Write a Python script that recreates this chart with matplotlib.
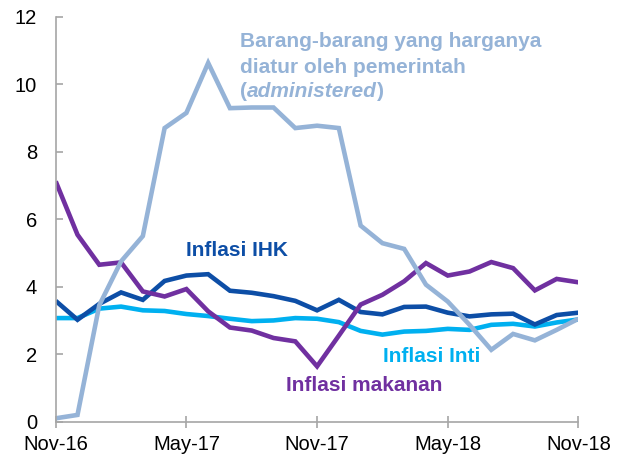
import numpy as np
import matplotlib.pyplot as plt

plt.rcParams['font.family'] = ['Liberation Sans', 'DejaVu Sans']

# ---------------- DATA ----------------
# monthly, Nov-16 .. Nov-18 (annual %, yoy)
months = np.arange(25)
tick_pos = [0, 6, 12, 18, 24]
tick_labels = ['Nov-16', 'May-17', 'Nov-17', 'May-18', 'Nov-18']

inflasi_ihk = [3.58, 3.02, 3.49, 3.83, 3.61, 4.17, 4.33, 4.37, 3.88, 3.82, 3.72, 3.58, 3.30,
               3.61, 3.25, 3.18, 3.40, 3.41, 3.23, 3.12, 3.18, 3.20, 2.88, 3.16, 3.23]
inflasi_inti = [3.07, 3.07, 3.35, 3.41, 3.30, 3.28, 3.19, 3.13, 3.05, 2.98, 3.00, 3.07, 3.05,
                2.95, 2.69, 2.58, 2.67, 2.69, 2.75, 2.72, 2.87, 2.90, 2.82, 2.94, 3.03]
inflasi_makanan = [7.12, 5.54, 4.65, 4.72, 3.86, 3.71, 3.93, 3.27, 2.79, 2.70, 2.48, 2.38, 1.64,
                   2.55, 3.47, 3.76, 4.16, 4.70, 4.33, 4.45, 4.73, 4.55, 3.89, 4.23, 4.13]
administered = [0.10, 0.20, 3.45, 4.75, 5.50, 8.70, 9.15, 10.63, 9.29, 9.31, 9.31, 8.70, 8.77,
                8.70, 5.81, 5.29, 5.12, 4.06, 3.56, 2.87, 2.13, 2.60, 2.41, 2.72, 3.05]

C_ADM = '#95B3D7'
C_IHK = '#0D4EA6'
C_INTI = '#00B0F0'
C_FOOD = '#7030A0'

# ---------------- PLOT ----------------
fig = plt.figure(figsize=(6.26, 4.59), dpi=100)
ax = fig.add_axes([0.089, 0.0813, 0.835, 0.8823])

lw = 3.3
kw = dict(lw=lw, solid_joinstyle='miter', solid_capstyle='butt')
ax.plot(months, inflasi_inti, color=C_INTI, **kw)
ax.plot(months, inflasi_ihk, color=C_IHK, **kw)
ax.plot(months, inflasi_makanan, color=C_FOOD, **kw)
ax.plot(months, administered, color=C_ADM, **kw)

ax.set_xlim(0, 24)
ax.set_ylim(0, 12)
ax.set_yticks(range(0, 13, 2))
ax.set_xticks(tick_pos)
ax.set_xticklabels(tick_labels)

for s in ['top', 'right']:
    ax.spines[s].set_visible(False)
for s in ['left', 'bottom']:
    ax.spines[s].set_color('#A6A6A6')
    ax.spines[s].set_linewidth(1.2)

ax.tick_params(axis='y', direction='in', length=5, width=1.2, color='#A6A6A6',
               labelsize=14.5, pad=13.5)
ax.tick_params(axis='x', direction='inout', length=9, width=1.2, color='#A6A6A6',
               labelsize=14.5, pad=5)

# ---------------- LABELS ----------------
fs = 15
tkw = dict(fontsize=fs, fontweight='bold', va='baseline', ha='left')
ax.text(5.97, 4.91, 'Inflasi IHK', color=C_IHK, **tkw)
ax.text(15.01, 1.78, 'Inflasi Inti', color=C_INTI, **tkw)
ax.text(10.57, 0.91, 'Inflasi makanan', color=C_FOOD, **tkw)

ax.text(8.46, 11.09, 'Barang-barang yang harganya', color=C_ADM, **tkw)
ax.text(8.46, 10.34, 'diatur oleh pemerintah', color=C_ADM, **tkw)
t1 = ax.text(8.46, 9.61, '(', color=C_ADM, **tkw)
t2 = ax.annotate('administered', xy=(1, 0), xycoords=t1, color=C_ADM,
                 fontsize=fs, fontweight='bold', fontstyle='italic',
                 va='bottom', ha='left')
ax.annotate(')', xy=(1, 0), xycoords=t2, color=C_ADM,
            fontsize=fs, fontweight='bold', va='bottom', ha='left')

fig.savefig('out.png', dpi=100)
